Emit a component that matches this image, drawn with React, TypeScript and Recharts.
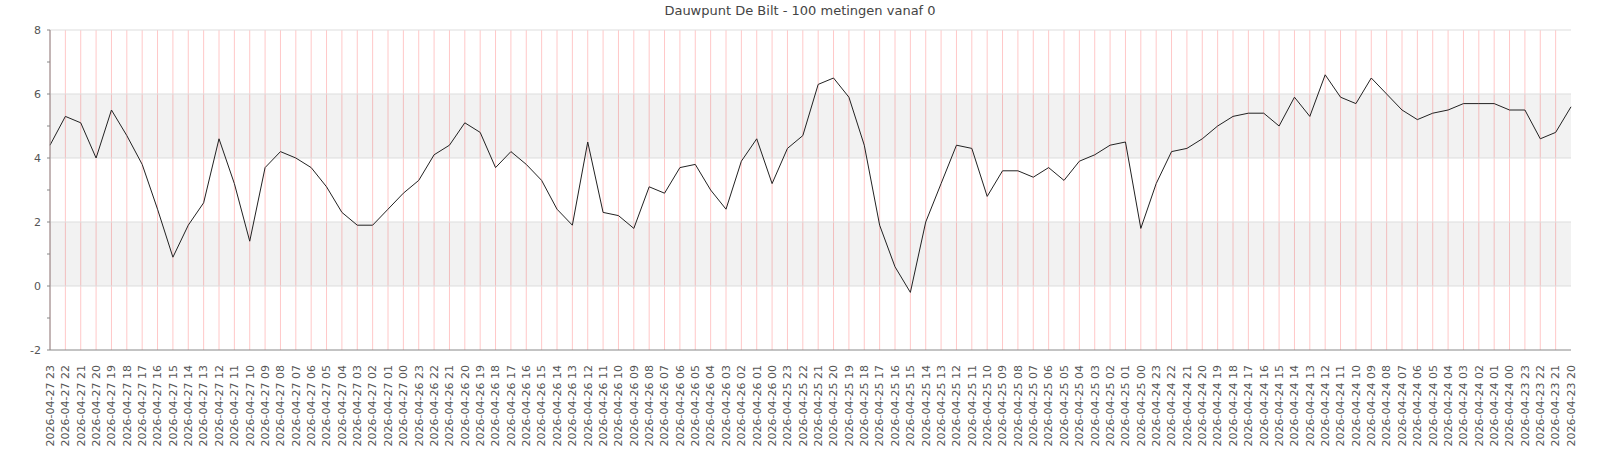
import React from "react";
import {
  LineChart,
  Line,
  XAxis,
  YAxis,
  CartesianGrid,
  ReferenceArea,
  ReferenceLine,
} from "recharts";

// meettijden, nieuwste eerst (zoals in de bron)
const times = [
  "2026-04-27 23", "2026-04-27 22", "2026-04-27 21", "2026-04-27 20", "2026-04-27 19",
  "2026-04-27 18", "2026-04-27 17", "2026-04-27 16", "2026-04-27 15", "2026-04-27 14",
  "2026-04-27 13", "2026-04-27 12", "2026-04-27 11", "2026-04-27 10", "2026-04-27 09",
  "2026-04-27 08", "2026-04-27 07", "2026-04-27 06", "2026-04-27 05", "2026-04-27 04",
  "2026-04-27 03", "2026-04-27 02", "2026-04-27 01", "2026-04-27 00", "2026-04-26 23",
  "2026-04-26 22", "2026-04-26 21", "2026-04-26 20", "2026-04-26 19", "2026-04-26 18",
  "2026-04-26 17", "2026-04-26 16", "2026-04-26 15", "2026-04-26 14", "2026-04-26 13",
  "2026-04-26 12", "2026-04-26 11", "2026-04-26 10", "2026-04-26 09", "2026-04-26 08",
  "2026-04-26 07", "2026-04-26 06", "2026-04-26 05", "2026-04-26 04", "2026-04-26 03",
  "2026-04-26 02", "2026-04-26 01", "2026-04-26 00", "2026-04-25 23", "2026-04-25 22",
  "2026-04-25 21", "2026-04-25 20", "2026-04-25 19", "2026-04-25 18", "2026-04-25 17",
  "2026-04-25 16", "2026-04-25 15", "2026-04-25 14", "2026-04-25 13", "2026-04-25 12",
  "2026-04-25 11", "2026-04-25 10", "2026-04-25 09", "2026-04-25 08", "2026-04-25 07",
  "2026-04-25 06", "2026-04-25 05", "2026-04-25 04", "2026-04-25 03", "2026-04-25 02",
  "2026-04-25 01", "2026-04-25 00", "2026-04-24 23", "2026-04-24 22", "2026-04-24 21",
  "2026-04-24 20", "2026-04-24 19", "2026-04-24 18", "2026-04-24 17", "2026-04-24 16",
  "2026-04-24 15", "2026-04-24 14", "2026-04-24 13", "2026-04-24 12", "2026-04-24 11",
  "2026-04-24 10", "2026-04-24 09", "2026-04-24 08", "2026-04-24 07", "2026-04-24 06",
  "2026-04-24 05", "2026-04-24 04", "2026-04-24 03", "2026-04-24 02", "2026-04-24 01",
  "2026-04-24 00", "2026-04-23 23", "2026-04-23 22", "2026-04-23 21", "2026-04-23 20",
];

const dauwpunt = [
  4.4, 5.3, 5.1, 4.0, 5.5, 4.7, 3.8, 2.4, 0.9, 1.9,
  2.6, 4.6, 3.2, 1.4, 3.7, 4.2, 4.0, 3.7, 3.1, 2.3,
  1.9, 1.9, 2.4, 2.9, 3.3, 4.1, 4.4, 5.1, 4.8, 3.7,
  4.2, 3.8, 3.3, 2.4, 1.9, 4.5, 2.3, 2.2, 1.8, 3.1,
  2.9, 3.7, 3.8, 3.0, 2.4, 3.9, 4.6, 3.2, 4.3, 4.7,
  6.3, 6.5, 5.9, 4.4, 1.9, 0.6, -0.2, 2.0, 3.2, 4.4,
  4.3, 2.8, 3.6, 3.6, 3.4, 3.7, 3.3, 3.9, 4.1, 4.4,
  4.5, 1.8, 3.2, 4.2, 4.3, 4.6, 5.0, 5.3, 5.4, 5.4,
  5.0, 5.9, 5.3, 6.6, 5.9, 5.7, 6.5, 6.0, 5.5, 5.2,
  5.4, 5.5, 5.7, 5.7, 5.7, 5.5, 5.5, 4.6, 4.8, 5.6,
];

const yTicks = [-2, -1, 0, 1, 2, 3, 4, 5, 6, 7, 8];
const gridLevels = [0, 2, 4, 6, 8];
const bands = [
  [0, 2],
  [4, 6],
];

const data = times.map((t, i) => ({ t, v: dauwpunt[i] }));

const FONT = "DejaVu Sans, sans-serif";

// roze verticale lijnen op elk meetpunt, behalve de laatste (rechterrand)
function verticalLines({ xAxis, offset }: any) {
  const pts = times.slice(0, -1);
  if (xAxis && typeof xAxis.scale === "function") {
    const xs = pts.map((t) => xAxis.scale(t));
    if (xs.every((x) => typeof x === "number" && !isNaN(x))) return xs;
  }
  const step = offset.width / (times.length - 1);
  return pts.map((_, i) => offset.left + i * step);
}

function TimeTick({ x, y, payload }: any) {
  const ty = y + 15;
  return (
    <text
      x={x}
      y={ty}
      dy="0.35em"
      textAnchor="end"
      transform={`rotate(-90, ${x}, ${ty})`}
      fontSize={11}
      fontFamily={FONT}
      fill="#555"
    >
      {payload.value}
    </text>
  );
}

export default function App() {
  return (
    <div style={{ position: "absolute", left: 0, top: 0, width: 1600, height: 450, background: "#fff" }}>
      <div
        style={{
          position: "absolute",
          top: 3,
          left: 0,
          width: 1600,
          textAlign: "center",
          fontFamily: FONT,
          fontSize: 13,
          lineHeight: "16px",
          color: "#444",
        }}
      >
        Dauwpunt De Bilt - 100 metingen vanaf 0
      </div>
      <LineChart
        width={1600}
        height={450}
        data={data}
        margin={{ top: 30, right: 29, left: 0, bottom: 0 }}
      >
        <CartesianGrid
          horizontal={false}
          stroke="#ffc8c8"
          strokeWidth={1}
          verticalCoordinatesGenerator={verticalLines}
        />
        {bands.map(([a, b]) => (
          <ReferenceArea
            key={a}
            y1={a}
            y2={b}
            fill="#000"
            fillOpacity={0.05}
            stroke="none"
            isFront={false}
          />
        ))}
        {gridLevels.map((g) => (
          <ReferenceLine key={g} y={g} stroke="#dddddd" strokeWidth={1} />
        ))}
        <XAxis
          dataKey="t"
          interval={0}
          height={100}
          tickSize={0}
          tickMargin={0}
          tickLine={false}
          axisLine={{ stroke: "#888" }}
          tick={<TimeTick />}
        />
        <YAxis
          domain={[-2, 8]}
          ticks={yTicks}
          interval={0}
          width={50}
          tickSize={3}
          tickMargin={6}
          tickLine={{ stroke: "#888" }}
          axisLine={{ stroke: "#888" }}
          tickFormatter={(v) => (v % 2 === 0 ? String(v) : "")}
          tick={{ fontSize: 11, fontFamily: FONT, fill: "#555" }}
        />
        <Line
          dataKey="v"
          stroke="#222"
          strokeWidth={1}
          dot={false}
          activeDot={false}
          isAnimationActive={false}
        />
      </LineChart>
    </div>
  );
}
